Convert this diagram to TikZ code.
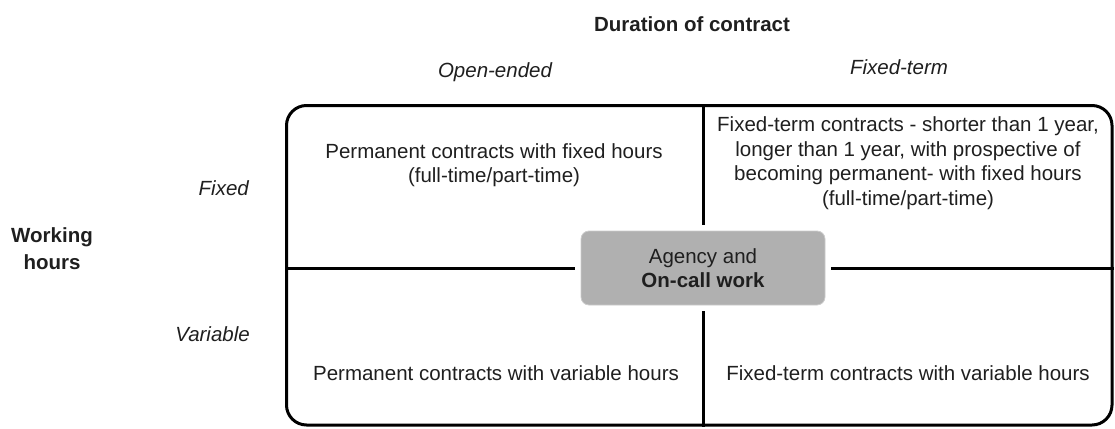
\documentclass[tikz,border=0pt]{standalone}
\usepackage{fontspec}
\setmainfont{Liberation Sans}
\begin{document}
\begin{tikzpicture}[x=1pt,y=-1pt,
  every node/.style={font=\fontsize{20.5}{24.5}\selectfont, text=black!88, inner sep=0pt},
  axis/.style={font=\fontsize{20.5}{27}\selectfont\bfseries, align=center},
  cat/.style={font=\fontsize{20.5}{24.5}\selectfont\itshape},
  cell/.style={align=center},
  frame/.style={draw=black, line width=3pt, rounded corners=20pt,
    minimum width=825.5pt, minimum height=319.5pt},
  hub/.style={fill=gray!62, draw=gray!40, line width=0.8pt, rounded corners=8pt,
    minimum width=244pt, minimum height=74pt, align=center},
  divider/.style={line width=3pt}]
\useasboundingbox (0,0) rectangle (1115,428);

% outer frame of the matrix
\node[frame] (frame) at (699.25,265.25) {};

% central category
\node[hub] (hub) at (703,268) {Agency and\\\textbf{On-call work}};

% dividers between the four cells
\draw[divider] (frame.north -| hub.north) -- ([yshift=6pt]hub.north);
\draw[divider] ([yshift=-6pt]hub.south) -- (frame.south -| hub.south);
\draw[divider] (frame.west |- hub.west) -- ([xshift=-6pt]hub.west);
\draw[divider] ([xshift=6pt]hub.east) -- (frame.east |- hub.east);

% axis titles
\node[axis] (duration) at (692,24) {Duration of contract};
\node[axis] (working) at (52,249) {Working\\hours};

% axis categories
\node[cat] (open) at (495,72) {Open-ended};
\node[cat] (fixedterm) at (899,67) {Fixed-term};
\node[cat, anchor=east] (fixed) at (249,188) {Fixed};
\node[cat, anchor=east] (variable) at (250,334) {Variable};

% cell contents
\node[cell] (tl) at (494,165) {Permanent contracts with fixed hours\\(full-time/part-time)};
\node[cell] (tr) at (908,163) {Fixed-term contracts - shorter than 1 year,\\longer than 1 year, with prospective of\\becoming permanent- with fixed hours\\(full-time/part-time)};
\node[cell] (bl) at (496,373) {Permanent contracts with variable hours};
\node[cell] (br) at (908,373) {Fixed-term contracts with variable hours};
\end{tikzpicture}
\end{document}
